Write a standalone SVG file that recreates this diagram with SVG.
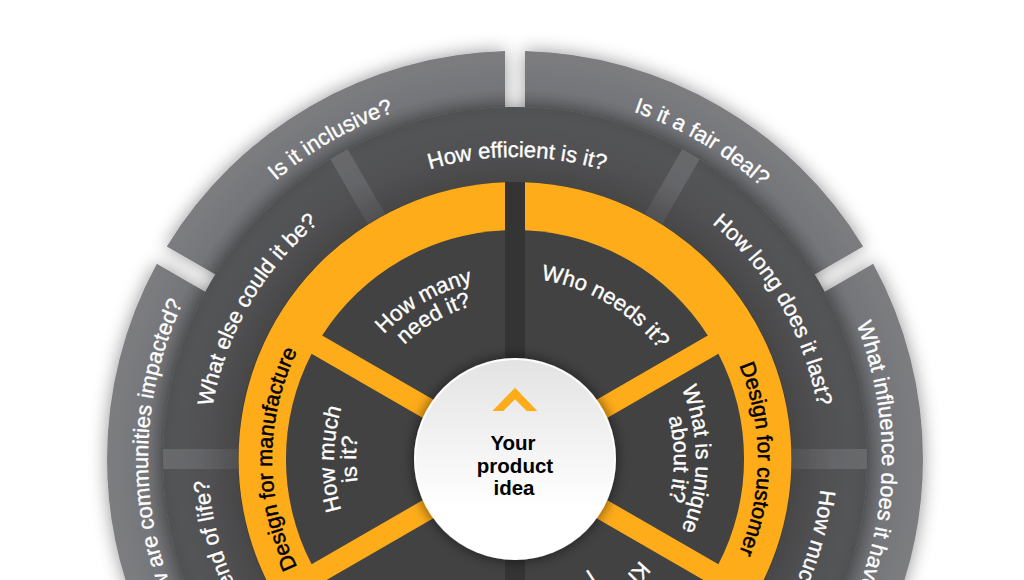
<svg xmlns="http://www.w3.org/2000/svg" width="1024" height="580" viewBox="0 0 1024 580">
<style>
text{font-family:"Liberation Sans",Arial,sans-serif}
.w{fill:#fff;stroke:#fff;stroke-width:.35px;font-size:22px;text-anchor:middle}
.o{fill:#000;stroke:#000;stroke-width:.5px;font-size:21.5px;text-anchor:middle}
.c{fill:#000;font-size:20.5px;font-weight:700;text-anchor:middle}
.outer{fill:url(#gOuter)}
.mid{fill:url(#gMid)}
.wedge{fill:#424242}
.orange{fill:#ffac1a}
</style>
<defs>
<radialGradient id="gOuter" gradientUnits="userSpaceOnUse" cx="515" cy="459" r="408"><stop offset=".86" stop-color="#626366"/><stop offset=".91" stop-color="#75767a"/><stop offset="1" stop-color="#7c7d80"/></radialGradient>
<radialGradient id="gMid" gradientUnits="userSpaceOnUse" cx="515" cy="459" r="352"><stop offset=".78" stop-color="#464647"/><stop offset=".87" stop-color="#505052"/><stop offset=".96" stop-color="#545557"/><stop offset="1" stop-color="#505153"/></radialGradient>
<radialGradient id="gGap" gradientUnits="userSpaceOnUse" cx="515" cy="459" r="352"><stop offset=".78" stop-color="#4f4f51"/><stop offset=".9" stop-color="#646568"/><stop offset="1" stop-color="#68696c"/></radialGradient>
<linearGradient id="gHub" x1="0" y1="0" x2="0" y2="1"><stop offset="0" stop-color="#e3e3e3"/><stop offset=".75" stop-color="#fff"/></linearGradient>
<filter id="s1" x="-10%" y="-10%" width="120%" height="120%"><feDropShadow dx="0" dy="0" stdDeviation="9" flood-color="#000" flood-opacity=".42"/></filter>
<filter id="s2" x="-10%" y="-10%" width="120%" height="120%"><feDropShadow dx="0" dy="0" stdDeviation="8" flood-color="#000" flood-opacity=".35"/></filter>
<filter id="s3" x="-20%" y="-20%" width="140%" height="140%"><feDropShadow dx="0" dy="0" stdDeviation="7" flood-color="#000" flood-opacity=".6"/></filter>
<path id="r367" d="M148 459A367 367 0 0 1 882 459"/>
<path id="r307" d="M208 459A307 307 0 0 1 822 459"/>
<path id="r302" d="M213 459A302 302 0 0 1 817 459"/>
<path id="r243" d="M272 459A243 243 0 0 1 758 459"/>
<path id="r181" d="M334 459A181 181 0 0 1 696 459"/>
<path id="r161" d="M354 459A161 161 0 0 1 676 459"/>
<path id="r159" d="M356 459A159 159 0 0 1 674 459"/>
<path id="r133" d="M382 459A133 133 0 0 1 648 459"/>
</defs>
<rect width="1024" height="580" fill="#fff"/>
<g id="outer-ring" filter="url(#s1)">
<path id="seg-inclusive" class="outer" d="M505 441.7V51.12A408 408 0 0 0 166.8 246.4Z"/>
<path id="seg-fair" class="outer" d="M525 441.7V51.12A408 408 0 0 1 863.2 246.4Z"/>
<path id="seg-influence" class="outer" d="M535 459L873.2 263.7A408 408 0 0 1 873.2 654.3Z"/>
<path id="seg-communities" class="outer" d="M495 459L156.8 263.7A408 408 0 0 0 156.8 654.3Z"/>
</g>
<circle id="mid-disc" cx="515" cy="459" r="352" fill="url(#gGap)" filter="url(#s2)"/>
<g id="mid-ring">
<path class="mid" d="M515 439L347.73 149.28A352 352 0 0 1 682.27 149.28Z"/>
<path class="mid" d="M532.3 449L699.59 159.28A352 352 0 0 1 866.86 449Z"/>
<path class="mid" d="M532.3 469H866.86A352 352 0 0 1 699.59 758.72Z"/>
<path class="mid" d="M497.7 449L330.41 159.28A352 352 0 0 0 163.14 449Z"/>
<path class="mid" d="M497.7 469H163.14A352 352 0 0 0 330.41 758.72Z"/>
</g>
<g id="core">
<circle cx="515" cy="459" r="277" fill="#343435"/>
<path class="orange" d="M525 182.2A277 277 0 0 1 525 735.8Z"/>
<path class="orange" d="M505 182.2A277 277 0 0 0 505 735.8Z"/>
<path class="wedge" d="M525 441.1V230.2A229 229 0 0 1 707.85 335.5Z"/>
<path class="wedge" d="M536 459L718.4 353.7A229 229 0 0 1 718.4 564.3Z"/>
<path class="wedge" d="M525 476.9L707.85 582.5A229 229 0 0 1 525 687.8Z"/>
<path class="wedge" d="M505 441.1V230.2A229 229 0 0 0 322.15 335.5Z"/>
<path class="wedge" d="M494 459L311.6 353.7A229 229 0 0 0 311.6 564.3Z"/>
<path class="wedge" d="M505 476.9L322.15 582.5A229 229 0 0 0 505 687.8Z"/>
</g>
<g id="labels-outer">
<text class="w" transform="rotate(-30 515 459)"><textPath href="#r367" startOffset="50%">Is it inclusive?</textPath></text>
<text class="w" transform="rotate(30.5 515 459)"><textPath href="#r367" startOffset="50%">Is it a fair deal?</textPath></text>
<text class="w" transform="rotate(90 515 459)" style="text-anchor:start"><textPath href="#r367" startOffset="38%">What influence does it have</textPath></text>
<text class="w" transform="rotate(-90 515 459)" style="text-anchor:end"><textPath href="#r367" startOffset="64%">w are communities impacted?</textPath></text>
</g>
<g id="labels-mid">
<text class="w" transform="rotate(.4 515 459)"><textPath href="#r302" startOffset="50%">How efficient is it?</textPath></text>
<text class="w" transform="rotate(60 515 459)"><textPath href="#r307" startOffset="50%">How long does it last?</textPath></text>
<text class="w" transform="rotate(-60 515 459)"><textPath href="#r307" startOffset="50%">What else could it be?</textPath></text>
<text class="w" transform="rotate(120 515 459)" style="text-anchor:start"><textPath href="#r307" startOffset="36.5%">How muc</textPath></text>
<text class="w" transform="rotate(-120 515 459)" style="text-anchor:end"><textPath href="#r307" startOffset="64.5%">end of life?</textPath></text>
</g>
<g id="labels-orange">
<text class="o" transform="rotate(90 515 459)"><textPath href="#r243" startOffset="50%">Design for customer</textPath></text>
<text class="o" transform="rotate(-90 515 459)"><textPath href="#r243" startOffset="50%">Design for manufacture</textPath></text>
</g>
<g id="labels-inner">
<text class="w" transform="rotate(30.5 515 459)"><textPath href="#r181" startOffset="50%">Who needs it?</textPath></text>
<text class="w" transform="rotate(-30 515 459)"><textPath href="#r181" startOffset="50%">How many</textPath></text>
<text class="w" transform="rotate(-30 515 459)"><textPath href="#r159" startOffset="50%">need it?</textPath></text>
<text class="w" transform="rotate(90 515 459)"><textPath href="#r181" startOffset="50%">What is unique</textPath></text>
<text class="w" transform="rotate(90 515 459)"><textPath href="#r159" startOffset="50%">about it?</textPath></text>
<text class="w" transform="rotate(-90 515 459)"><textPath href="#r181" startOffset="50%">How much</textPath></text>
<text class="w" transform="rotate(-90 515 459)"><textPath href="#r159" startOffset="50%">is it?</textPath></text>
<text class="w" transform="rotate(150 515 459)" style="text-anchor:start"><textPath href="#r161" startOffset="38.3%">Ki</textPath></text>
<text class="w" transform="rotate(150 515 459)" style="text-anchor:start"><textPath href="#r133" startOffset="47.8%">l</textPath></text>
</g>
<g id="hub">
<circle cx="515" cy="459" r="101" fill="#fff" filter="url(#s3)"/>
<circle cx="515" cy="459" r="99" fill="url(#gHub)"/>
<path class="orange" d="M515 387.7L537.3 411H526.7L515 399.3L503.3 411H492.3Z"/>
<text class="c" x="513" y="450">Your</text>
<text class="c" x="515" y="473">product</text>
<text class="c" x="514" y="495">idea</text>
</g>
</svg>
